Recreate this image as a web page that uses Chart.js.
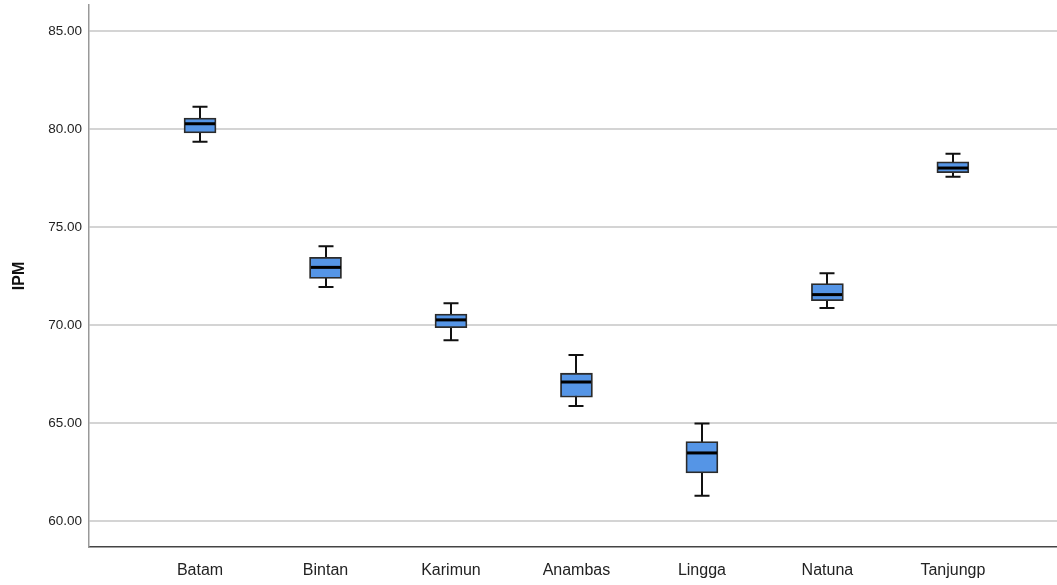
<!DOCTYPE html>
<html>
<head>
<meta charset="utf-8">
<script src="https://cdn.jsdelivr.net/npm/chart.js@4"></script>
<style>
  html, body { margin: 0; padding: 0; background: #fff; }
  #wrap { width: 1057px; height: 585px; }
</style>
</head>
<body>
<div id="wrap"><canvas id="ipmChart" width="1057" height="585"></canvas></div>
<script>
// Boxplot data per region
const regions = ['Batam', 'Bintan', 'Karimun', 'Anambas', 'Lingga', 'Natuna', 'Tanjungp'];
const whiskerLow  = [79.35, 71.94, 69.22, 65.87, 61.28, 70.87, 77.57];
const q1          = [79.80, 72.38, 69.86, 66.31, 62.45, 71.24, 77.77];
const median      = [80.27, 72.94, 70.26, 67.09, 63.47, 71.55, 78.01];
const q3          = [80.56, 73.45, 70.56, 67.54, 64.05, 72.11, 78.33];
const whiskerHigh = [81.14, 74.02, 71.11, 68.47, 64.97, 72.64, 78.74];
const yTicks = [60, 65, 70, 75, 80, 85];

const BOX_W = 32;
const CAP_W = 15;

// whiskers behind the boxes, medians on top
const boxParts = {
    id: 'boxParts',
    beforeDatasetsDraw(chart) {
        const { ctx, scales: { x, y } } = chart;
        ctx.save();
        ctx.strokeStyle = '#111';
        ctx.lineWidth = 2;
        regions.forEach((r, i) => {
            const cx = Math.round(x.getPixelForValue(i));
            const lo = y.getPixelForValue(whiskerLow[i]);
            const hi = y.getPixelForValue(whiskerHigh[i]);
            ctx.beginPath();
            ctx.moveTo(cx, lo); ctx.lineTo(cx, hi);
            ctx.moveTo(cx - CAP_W / 2, lo); ctx.lineTo(cx + CAP_W / 2, lo);
            ctx.moveTo(cx - CAP_W / 2, hi); ctx.lineTo(cx + CAP_W / 2, hi);
            ctx.stroke();
        });
        ctx.restore();
    },
    afterDatasetsDraw(chart) {
        const { ctx, scales: { x, y } } = chart;
        ctx.save();
        ctx.strokeStyle = '#000';
        ctx.lineWidth = 3;
        regions.forEach((r, i) => {
            const cx = Math.round(x.getPixelForValue(i));
            const my = y.getPixelForValue(median[i]);
            ctx.beginPath();
            ctx.moveTo(cx - BOX_W / 2 + 1, my); ctx.lineTo(cx + BOX_W / 2 - 1, my);
            ctx.stroke();
        });
        ctx.restore();
    }
};

new Chart(document.getElementById('ipmChart'), {
    type: 'bar',
    data: {
        datasets: [{
            label: 'IPM',
            data: regions.map((r, i) => ({ x: i, y: [q1[i], q3[i]] })),
            backgroundColor: '#5595e6',
            borderColor: '#2b2b2b',
            borderWidth: 1.8,
            borderSkipped: false,
            barThickness: BOX_W
        }]
    },
    options: {
        responsive: false,
        animation: false,
        layout: { padding: { top: 5, right: 0, left: 0, bottom: 0 } },
        plugins: { legend: { display: false }, tooltip: { enabled: false } },
        scales: {
            x: {
                type: 'linear',
                offset: false,
                min: -0.885,
                max: 6.83,
                afterBuildTicks: s => { s.ticks = regions.map((r, i) => ({ value: i })); },
                afterFit: s => { s.height = 38; s.paddingLeft = 0; s.paddingRight = 0; },
                ticks: {
                    callback: v => regions[v],
                    color: '#222',
                    font: { family: 'Liberation Sans, Arial', size: 16 },
                    padding: 14,
                    autoSkip: false,
                    maxRotation: 0
                },
                grid: { display: false, drawTicks: false },
                border: { color: '#444', width: 1.5 }
            },
            y: {
                min: 58.67,
                max: 86.33,
                afterBuildTicks: s => { s.ticks = yTicks.map(v => ({ value: v })); },
                afterFit: s => { s.width = 89; s.paddingTop = 0; s.paddingBottom = 0; },
                ticks: {
                    callback: v => v.toFixed(2),
                    color: '#222',
                    font: { family: 'Liberation Sans, Arial', size: 13.5 },
                    padding: 7
                },
                grid: { color: '#d4d4d4', lineWidth: 2, drawTicks: false },
                border: { color: '#999', width: 1.5 },
                title: {
                    display: true,
                    text: 'IPM',
                    color: '#111',
                    font: { family: 'Liberation Sans, Arial', size: 16, weight: 'bold' },
                    padding: { top: 10, bottom: 0 }
                }
            }
        }
    },
    plugins: [boxParts]
});
</script>
</body>
</html>
